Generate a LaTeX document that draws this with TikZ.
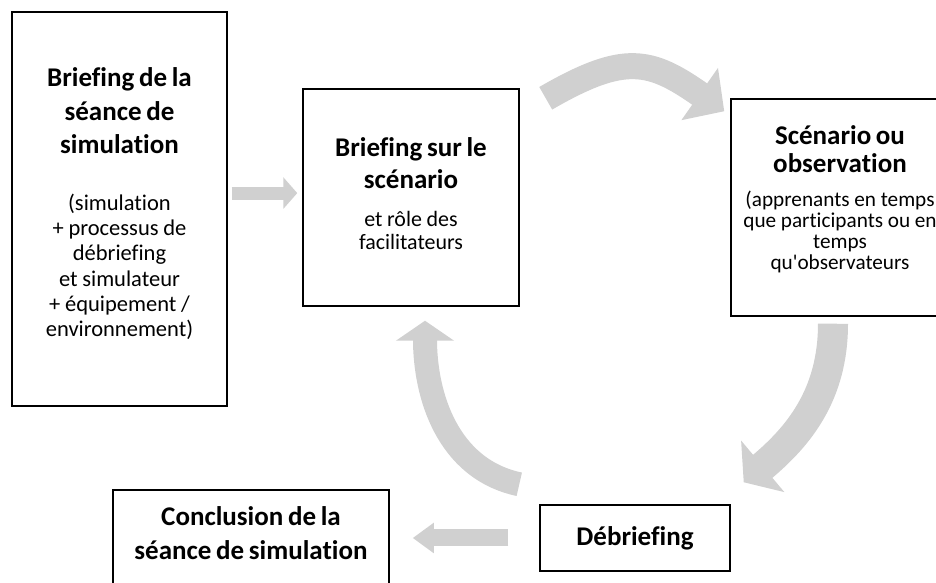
\documentclass[tikz,border=0pt]{standalone}
\usepackage{fontspec}
\setmainfont{Carlito}[Ligatures=NoCommon]
\usetikzlibrary{arrows.meta}
\definecolor{flowgray}{RGB}{208,208,208}
\newcommand{\stagetitle}[1]{\fontsize{19.2}{#1}\selectfont\bfseries}
\newcommand{\stagebody}[2]{\fontsize{#1}{#2}\selectfont}
\newcommand{\lift}[1]{\par\vskip#1\nointerlineskip\hbox{}}

\begin{document}
\begin{tikzpicture}[x=0.025cm,y=0.025cm]
\tikzset{stage/.style={rectangle,draw,line width=1pt,align=center,inner sep=0.05cm},
  flow/.style={draw=flowgray}}
%\draw[help lines,step=50] (0,0) grid (936,583);
\useasboundingbox (0,0) rectangle (936,583);
\node[stage,minimum width=5.375cm,minimum height=9.85cm,text width=5.2cm] (brief) at (119.5,374)
  {{\stagetitle{23.5pt}Briefing de la\\séance de\\simulation\par}\vskip22.7pt
   {\stagebody{16}{18pt}(simulation\\+ processus de\\débriefing\\et simulateur\\+ équipement /\\environnement)\lift{0.25cm}}};
\node[stage,minimum width=5.4cm,minimum height=5.425cm,text width=5.2cm] (scen) at (411,385.5)
  {{\stagetitle{22.8pt}Briefing sur le\\scénario\par}\vskip10.6pt
   {\stagebody{15.6}{16.4pt}et rôle des\\facilitateurs\lift{0.175cm}}};
\node[stage,minimum width=5.45cm,minimum height=5.425cm,text width=5.35cm] (obs) at (840,375.5)
  {{\stagetitle{19.9pt}Scénario ou\\observation\par}\vskip9.3pt
   {\stagebody{15.1}{14.9pt}\mbox{(apprenants en temps}\\\mbox{que participants ou en}\\temps\\qu\textquotesingle observateurs\lift{0.4cm}}};
\node[stage,minimum width=4.75cm,minimum height=1.65cm] (deb) at (635,45) {\stagetitle{23pt}Débriefing};
\node[stage,minimum width=6.9cm,minimum height=2.75cm,text width=6.7cm] (concl) at (251,38)
  {\stagetitle{24.2pt}Conclusion de la\\séance de simulation\lift{0.575cm}};
% flow between the stages
\draw[flow,line width=0.325cm,-{Triangle[length=0.35cm,width=0.775cm]},transform canvas={yshift=0.11cm},
  shorten <=0.1cm,shorten >=0.125cm] (brief.east |- scen.west) -- (scen.west);
\draw[flow,line width=0.65cm,-{Triangle[length=0.75cm,width=1.55cm]}]
  ([shift={(26,-10)}]scen.north east) to[out=30,in=145,looseness=1.3] ([shift={(-6,-13)}]obs.north west);
\draw[flow,line width=0.75cm,-{Triangle[length=0.62cm,width=1.65cm]}]
  ([shift={(-7,-7)}]obs.south) to[out=-90,in=40] ([shift={(13,22)}]deb.north east);
\draw[flow,line width=0.6cm,-{Triangle[length=0.5cm,width=1.43cm]}]
  ([shift={(-20,20)}]deb.north west) to[out=168,in=-90] ([shift={(14,-14)}]scen.south);
\draw[flow,line width=0.425cm,-{Triangle[length=0.525cm,width=0.725cm]},
  shorten <=0.775cm,shorten >=0.575cm] (deb.west) -- (deb.west -| concl.east);
\end{tikzpicture}
\end{document}
